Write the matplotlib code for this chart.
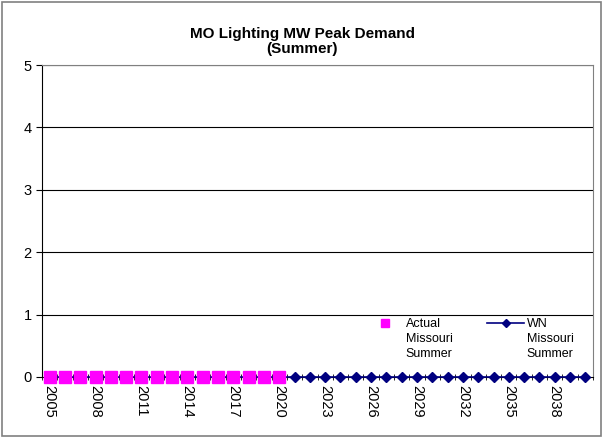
import numpy as np
import matplotlib.pyplot as plt
from matplotlib.legend_handler import HandlerLine2D

# years and series
years = list(range(2005, 2041))
actual_years = list(range(2005, 2021))
actual_vals = [0] * len(actual_years)
wn_years = list(range(2005, 2041))
wn_vals = [0] * len(wn_years)

plt.rcParams['font.family'] = ['Liberation Sans', 'DejaVu Sans']


class TopHandler(HandlerLine2D):
    # put the legend symbol beside the first line of a multi-line label
    def create_artists(self, legend, orig_handle, xdescent, ydescent, width, height,
                       fontsize, trans):
        arts = super().create_artists(legend, orig_handle, xdescent, ydescent, width,
                                      height, fontsize, trans)
        for a in arts:
            a.set_ydata([y + fontsize * 1.3 for y in a.get_ydata()])
        return arts


fig = plt.figure(figsize=(6.04, 4.38), dpi=100)
fig.patches.append(plt.Rectangle((0.003, 0.005), 0.992, 0.99, transform=fig.transFigure,
                                 fill=False, edgecolor='#808080', linewidth=1.2))
ax = fig.add_axes([42 / 604, 1 - 377 / 438, (593 - 42) / 604, (377 - 65) / 438])

pos = {y: i for i, y in enumerate(years)}
wn_line, = ax.plot([pos[y] for y in wn_years], wn_vals, color='#000080', marker='D',
                   markersize=5, linewidth=1.2, label='WN\nMissouri\nSummer',
                   clip_on=False, zorder=3)
act_line, = ax.plot([pos[y] for y in actual_years], actual_vals, linestyle='none',
                    color='#FF00FF', marker='s', markersize=8,
                    label='Actual\nMissouri\nSummer', clip_on=False, zorder=4)

ax.set_xlim(-0.5, len(years) - 0.5)
ax.set_ylim(0, 5)
ax.set_yticks(range(0, 6))
for v in range(1, 6):
    ax.axhline(v, color='black', linewidth=0.8, zorder=1)

ax.set_xticks(np.arange(-0.5, len(years), 1), minor=True)
ax.set_xticks([pos[y] for y in years[::3]])
ax.set_xticklabels([str(y) for y in years[::3]], rotation=-90, fontsize=10.5)
ax.tick_params(axis='x', which='both', length=4, direction='inout')
ax.tick_params(axis='x', which='major', length=0, pad=6)
ax.tick_params(axis='y', length=4, direction='out', labelsize=10.5)

for s in ['top', 'right']:
    ax.spines[s].set_color('#808080')
ax.spines['left'].set_color('black')
ax.spines['bottom'].set_color('black')

ax.set_title('MO Lighting MW Peak Demand\n(Summer)', fontsize=11, fontweight='bold', pad=9,
             linespacing=1.05, x=(302 - 42) / 551)

leg = ax.legend([act_line, wn_line], ['Actual\nMissouri\nSummer', 'WN\nMissouri\nSummer'],
                loc='lower right', bbox_to_anchor=(0.985, 0.02), ncol=2, frameon=False,
                fontsize=9, handlelength=2.96, handletextpad=0.2, columnspacing=2.75,
                labelspacing=0.2, markerscale=0.75,
                handler_map={act_line: TopHandler(), wn_line: TopHandler()})
for t in leg.get_texts():
    t.set_multialignment('left')
    t.set_linespacing(1.3)

fig.savefig('out.png', dpi=100)
